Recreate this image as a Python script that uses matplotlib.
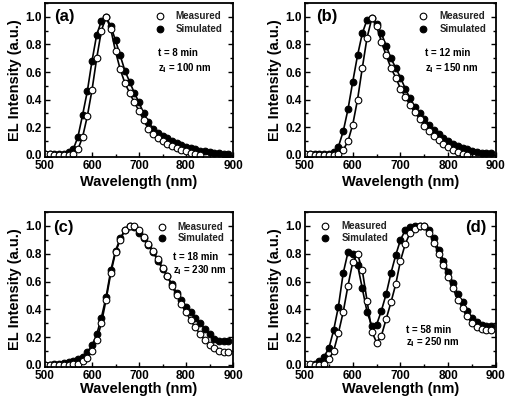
import numpy as np
import matplotlib
matplotlib.use("Agg")
import matplotlib.pyplot as plt
from matplotlib.ticker import MultipleLocator

plt.rcParams['font.family'] = ['Liberation Sans', 'DejaVu Sans']
plt.rcParams['font.weight'] = 'bold'

wl = np.arange(500, 900, 10)

# (a) t = 8 min
meas_a = [0.01, 0.01, 0.0, 0.0, 0.0, 0.0, 0.01, 0.04, 0.13, 0.28,
          0.47, 0.70, 0.90, 1.0, 0.91, 0.75, 0.62, 0.52, 0.45, 0.38,
          0.32, 0.25, 0.19, 0.15, 0.12, 0.10, 0.08, 0.065, 0.05, 0.035,
          0.025, 0.015, 0.005, 0.0]
sim_a = [0.01, 0.01, 0.005, 0.005, 0.01, 0.02, 0.04, 0.13, 0.29, 0.46,
         0.68, 0.87, 0.97, 1.0, 0.93, 0.83, 0.72, 0.61, 0.53, 0.45,
         0.38, 0.30, 0.24, 0.19, 0.16, 0.14, 0.12, 0.10, 0.085, 0.07,
         0.06, 0.05, 0.04, 0.032, 0.025, 0.02, 0.015, 0.012, 0.01, 0.008]

# (b) t = 12 min
meas_b = [0.01, 0.01, 0.0, 0.0, 0.0, 0.0, 0.0, 0.01, 0.035, 0.10,
          0.22, 0.40, 0.63, 0.85, 0.99, 0.93, 0.82, 0.72, 0.63, 0.56,
          0.48, 0.42, 0.36, 0.31, 0.26, 0.21, 0.17, 0.14, 0.11, 0.08,
          0.055, 0.035, 0.02, 0.01, 0.003]
sim_b = [0.01, 0.005, 0.005, 0.005, 0.005, 0.01, 0.02, 0.06, 0.17, 0.33,
         0.53, 0.72, 0.88, 0.98, 0.99, 0.95, 0.88, 0.79, 0.70, 0.63,
         0.56, 0.48, 0.41, 0.35, 0.30, 0.26, 0.22, 0.18, 0.15, 0.12,
         0.10, 0.08, 0.065, 0.05, 0.04, 0.03, 0.02, 0.015, 0.015, 0.015]

# (c) t = 18 min
meas_c = [0.0, 0.0, 0.0, 0.0, 0.0, 0.0, 0.005, 0.01, 0.025, 0.05,
          0.10, 0.18, 0.30, 0.47, 0.66, 0.81, 0.90, 0.97, 1.0, 1.0,
          0.97, 0.92, 0.87, 0.82, 0.76, 0.70, 0.64, 0.57, 0.50, 0.44,
          0.38, 0.32, 0.27, 0.22, 0.18, 0.14, 0.12, 0.10, 0.095, 0.09]
sim_c = [0.0, 0.0, 0.005, 0.01, 0.015, 0.02, 0.03, 0.04, 0.06, 0.09,
         0.14, 0.22, 0.34, 0.49, 0.68, 0.82, 0.91, 0.97, 1.0, 0.99,
         0.95, 0.91, 0.86, 0.81, 0.75, 0.69, 0.64, 0.58, 0.52, 0.47,
         0.42, 0.38, 0.34, 0.30, 0.26, 0.22, 0.19, 0.17, 0.17, 0.17]

# (d) t = 58 min
meas_d = [0.01, 0.01, 0.0, 0.0, 0.01, 0.04, 0.10, 0.23, 0.38, 0.57,
          0.74, 0.80, 0.68, 0.46, 0.24, 0.16, 0.21, 0.33, 0.45, 0.58,
          0.75, 0.87, 0.95, 0.98, 1.0, 1.0, 0.95, 0.88, 0.80, 0.72,
          0.63, 0.55, 0.47, 0.41, 0.35, 0.30, 0.27, 0.26, 0.25, 0.25]
sim_d = [0.0, 0.0, 0.01, 0.03, 0.06, 0.12, 0.25, 0.42, 0.66, 0.81,
         0.80, 0.72, 0.55, 0.38, 0.28, 0.29, 0.39, 0.51, 0.66, 0.79,
         0.90, 0.97, 0.99, 1.0, 1.0, 1.0, 0.97, 0.91, 0.83, 0.75,
         0.67, 0.59, 0.51, 0.45, 0.39, 0.34, 0.31, 0.29, 0.28, 0.28]

panels = [
    ("(a)", meas_a, sim_a, "t = 8 min", "100"),
    ("(b)", meas_b, sim_b, "t = 12 min", "150"),
    ("(c)", meas_c, sim_c, "t = 18 min", "230"),
    ("(d)", meas_d, sim_d, "t = 58 min", "250"),
]

W, H = 507, 397
rects = [(45, 3, 188, 154), (305, 3, 191, 154),
         (45, 212, 188, 155), (305, 212, 191, 155)]

# legend / label placement per panel, axes fractions
label_pos = [(0.05, 0.915, 'left'), (0.06, 0.915, 'left'),
             (0.045, 0.90, 'left'), (0.95, 0.90, 'right')]
leg_pos = [(0.61, 0.915, 0.83), (0.62, 0.915, 0.83),
           (0.62, 0.905, 0.83), (0.105, 0.91, 0.83)]
info_pos = [(0.60, 0.675, 0.58), (0.63, 0.675, 0.58),
            (0.68, 0.71, 0.625), (0.53, 0.24, 0.16)]

fig = plt.figure(figsize=(W / 100, H / 100), dpi=100)

for i, (lab, meas, sim, tinfo, zi) in enumerate(panels):
    x0, y0, w, h = rects[i]
    ax = fig.add_axes([x0 / W, 1 - (y0 + h) / H, w / W, h / H])
    ax.plot(wl[:len(sim)], sim, '-', color='black', lw=1.2,
            marker='o', ms=4.8, mfc='black', mec='black', mew=0.8)
    ax.plot(wl[:len(meas)], meas, '-', color='black', lw=1.2,
            marker='o', ms=4.8, mfc='white', mec='black', mew=0.8)
    ax.set_xlim(500, 900)
    ax.set_ylim(-0.015, 1.1)
    ax.xaxis.set_major_locator(MultipleLocator(100))
    ax.xaxis.set_minor_locator(MultipleLocator(50))
    ax.yaxis.set_major_locator(MultipleLocator(0.2))
    ax.yaxis.set_minor_locator(MultipleLocator(0.1))
    ax.tick_params(which='both', direction='in', right=True, top=False,
                   labelsize=8.5, width=1.0, pad=2)
    ax.tick_params(which='major', length=3.5)
    ax.tick_params(which='minor', length=2)
    ax.set_yticks(np.arange(0, 1.01, 0.2))
    ax.set_yticklabels(['%.1f' % v for v in np.arange(0, 1.01, 0.2)])
    for s in ax.spines.values():
        s.set_linewidth(1.3)
    lp = 2 if i < 2 else 0.5
    ax.set_xlabel("Wavelength (nm)", fontsize=10.5, fontweight='bold', labelpad=lp)
    ax.set_ylabel("EL Intensity (a.u.)", fontsize=10.5, fontweight='bold', labelpad=3)

    lx, ly, ha = label_pos[i]
    ax.text(lx, ly, lab, transform=ax.transAxes, fontsize=12,
            fontweight='bold', ha=ha, va='center')

    mx, my1, my2 = leg_pos[i]
    ax.plot([mx], [my1], 'o', transform=ax.transAxes, ms=4.8,
            mfc='white', mec='black', mew=0.8, clip_on=False)
    ax.plot([mx], [my2], 'o', transform=ax.transAxes, ms=4.8,
            mfc='black', mec='black', mew=0.8, clip_on=False)
    ax.text(mx + 0.085, my1, "Measured", transform=ax.transAxes,
            fontsize=7, fontweight='bold', va='center', color='#222222')
    ax.text(mx + 0.085, my2, "Simulated", transform=ax.transAxes,
            fontsize=7, fontweight='bold', va='center', color='#222222')

    tx, ty1, ty2 = info_pos[i]
    ax.text(tx, ty1, tinfo, transform=ax.transAxes, fontsize=7,
            fontweight='bold', va='center')
    ax.text(tx, ty2, r"z$_\mathbf{i}$ = %s nm" % zi, transform=ax.transAxes,
            fontsize=7, fontweight='bold', va='center')

fig.savefig("out.png", dpi=100)
